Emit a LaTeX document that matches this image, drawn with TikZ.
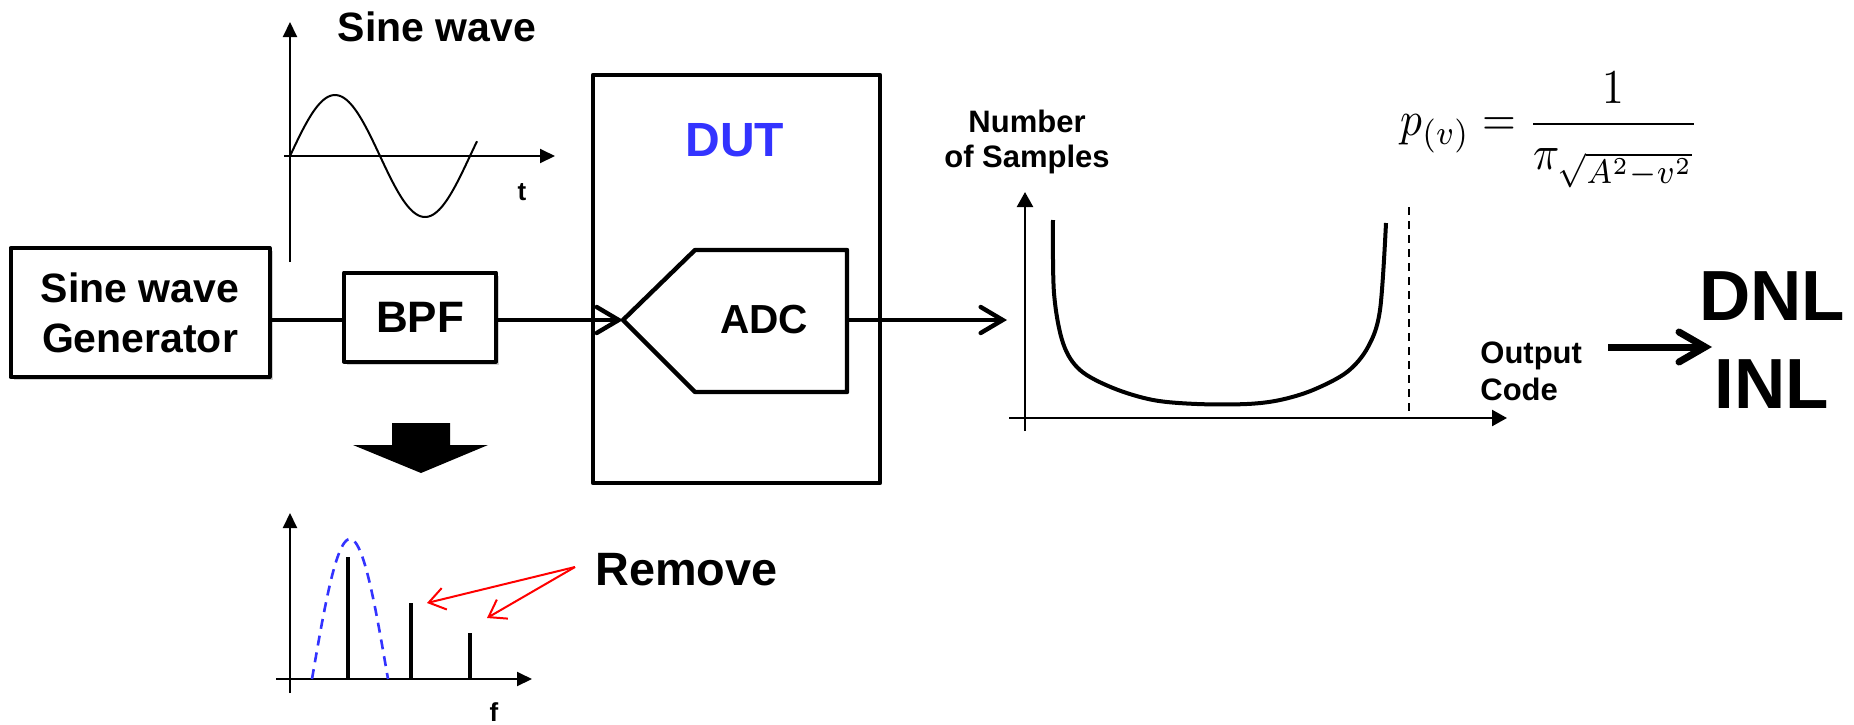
\documentclass[tikz,border=0pt]{standalone}
\usepackage{fontspec}
\setmainfont{Liberation Sans}
\usepackage{graphicx}
\usetikzlibrary{arrows.meta,shadows,calc}
\definecolor{dutblue}{RGB}{51,51,255}
\begin{document}
\begin{tikzpicture}[x=0.5pt,y=-0.5pt,line join=round,
  box/.style={draw,line width=2pt,fill=white,align=center,inner sep=0pt},
  shadowed/.style={drop shadow={shadow xshift=1.5pt,shadow yshift=-1.5pt,opacity=0.3,fill=black!60}},
  sig/.style={line width=2.2pt},
  sigarrow/.style={sig,-{Straight Barb[length=11pt,width=13pt,line cap=round]}},
  axisarrow/.style={line width=1pt,-{Triangle[length=7.5pt,width=7pt]}},
  haxisarrow/.style={line width=1.2pt,-{Triangle[length=7.5pt,width=8pt]}},
  redarrow/.style={red,line width=1pt,-{Straight Barb[length=8pt,width=11pt]}},
  lbl/.style={inner sep=0pt,align=center}]
\useasboundingbox (0,0) rectangle (1854,724);

% ---- sine wave plot
\node[lbl,anchor=base,font=\fontsize{20.5}{24}\selectfont\bfseries] (title) at (437,41) {Sine wave};
\draw[axisarrow] (290,262) -- (290,22);
\draw[axisarrow] (284,156) -- (555,156);
\draw[line width=1pt] plot[domain=0:187,samples=90,smooth] ({290+\x},{156-61*sin(2*\x)});
\node[lbl,anchor=base,font=\fontsize{13}{15}\selectfont\bfseries] (tlabel) at (522,200) {t};

% ---- generator and filter
\node[box,shadowed,minimum width=129.5pt,minimum height=64.5pt,
      font=\fontsize{20.5}{25}\selectfont\bfseries] (gen) at (140,312.5) {Sine wave\\Generator};
\node[box,shadowed,minimum width=76pt,minimum height=44.5pt,
      font=\fontsize{22}{26}\selectfont\bfseries] (bpf) at (420,317) {BPF};

% ---- DUT
\node[draw,line width=2.3pt,minimum width=143.5pt,minimum height=204pt,inner sep=0pt] (dut) at (736.5,279) {};
\node[lbl,text=dutblue,font=\fontsize{24}{28}\selectfont\bfseries] (dutlabel) at (735,140) {DUT};
\draw[line width=2.2pt] (623,320) -- (695,250) -- (847,250) -- (847,392) -- (695,392) -- cycle;
\coordinate (adcin) at (623,320);
\coordinate (adcout) at (847,320);
\node[lbl,font=\fontsize{20.3}{24}\selectfont\bfseries] (adclabel) at (764,320) {ADC};

\draw[sig] (gen.east |- adcin) -- (bpf.west |- adcin);
\draw[sigarrow] (bpf.east |- adcin) -- (adcin);
\coordinate (histin) at (1007,320);
\draw[sigarrow] (adcout) -- (histin);

% ---- histogram
\node[lbl,anchor=base,font=\fontsize{15.5}{17.5}\selectfont\bfseries] (nlabel) at (1027,167) {Number\\of Samples};
\draw[haxisarrow] (1025,431) -- (1025,192);
\draw[haxisarrow] (1009,418) -- (1507,418);
\draw[line width=2pt] plot[smooth,tension=0.55] coordinates {(1053,220) (1054,293) (1063,343) (1080,370) (1113,388) (1153,400) (1197,404) (1247,404) (1280,400) (1313,390) (1347,372) (1368,347) (1380,310) (1386,223)};
\draw[line width=1pt,dash pattern=on 4pt off 3pt] (1409,207) -- (1409,418);
\node[lbl,anchor=base west,align=left,font=\fontsize{15.5}{18.5}\selectfont\bfseries] (olabel) at (1480,400) {Output\\Code};

% ---- formula
\node[inner sep=0pt,anchor=west] (formula) at (1400,130)
  {\scalebox{1}[1.12]{\resizebox{149.5pt}{!}{$p_{(v)}=\displaystyle\frac{1}{\pi_{\sqrt{A^2-v^2}}}$}}};

% ---- DNL / INL
\coordinate (bigA) at (1608,347);
\coordinate (bigB) at (1712,347);
\draw[line width=3.5pt,-{Straight Barb[length=13pt,width=15pt,line cap=round]}] (bigA) -- (bigB);
\node[lbl,anchor=base,font=\fontsize{35.5}{44}\selectfont\bfseries] (dnl) at (1772,408) {DNL\\INL};

% ---- down arrow
\fill (392,423) -- (450,423) -- (450,445) -- (488,445) -- (421,473) -- (353,445) -- (392,445) -- cycle;

% ---- spectrum
\draw[axisarrow] (290,693) -- (290,513);
\draw[axisarrow] (276,679) -- (532,679);
\draw[line width=2pt] (348,679) -- (348,557);
\draw[line width=2pt] (411,679) -- (411,603);
\draw[line width=2pt] (470,679) -- (470,633);
\draw[dutblue,line width=1.3pt,dash pattern=on 5pt off 3.5pt] plot[domain=312:388,samples=60,smooth] (\x,{679-140*cos((\x-350)/38*90)});
\node[lbl,anchor=base,font=\fontsize{13}{15}\selectfont\bfseries] (flabel) at (494,721) {f};

% ---- remove
\node[lbl,anchor=base west,font=\fontsize{23.4}{27}\selectfont\bfseries] (remove) at (595,585) {Remove};
\coordinate (rm) at (575,567);
\coordinate (tip1) at (427,603);
\coordinate (tip2) at (487,618);
\draw[redarrow] (rm) -- (tip1);
\draw[redarrow] (rm) -- (tip2);
\end{tikzpicture}
\end{document}
